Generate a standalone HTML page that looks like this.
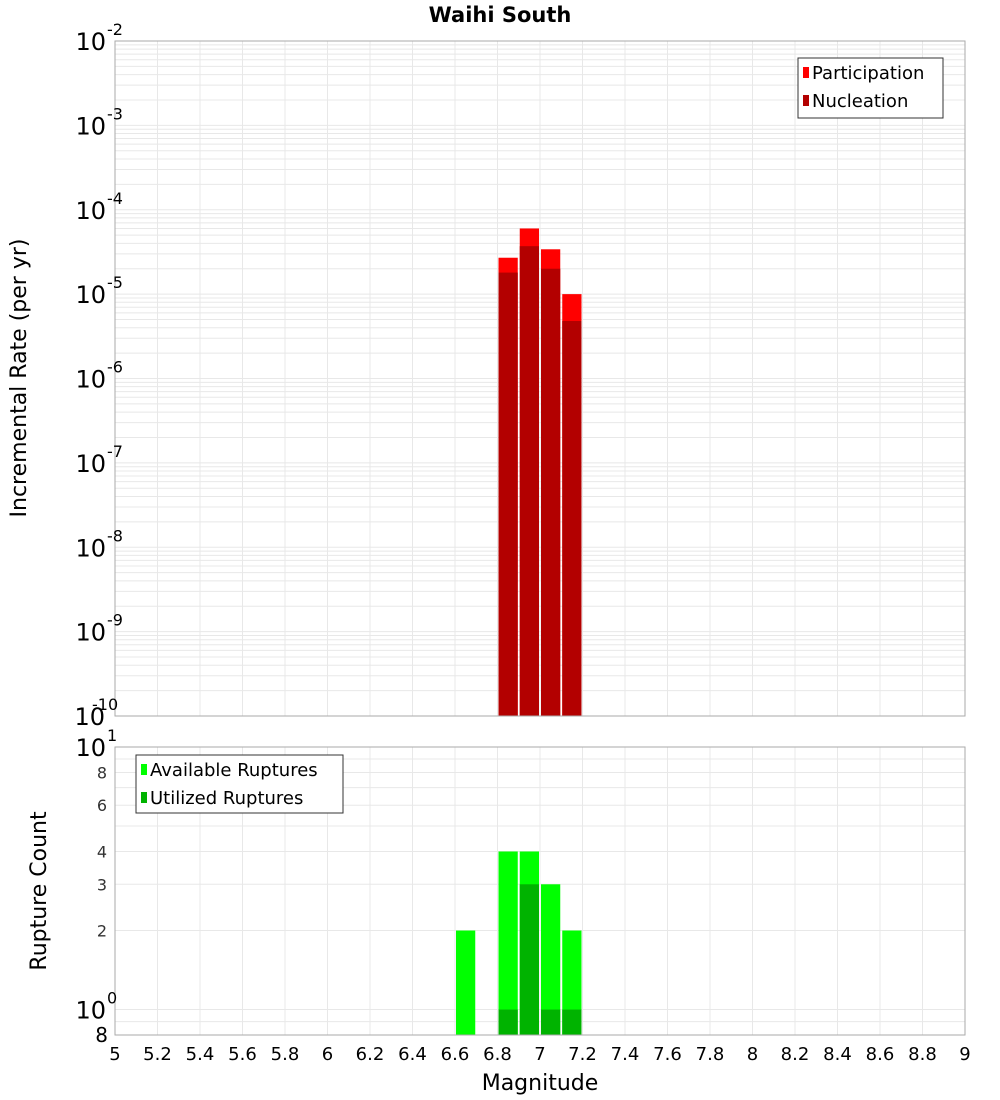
<!DOCTYPE html>
<html><head><meta charset="utf-8"><style>
html,body{margin:0;padding:0;background:#fff;}
svg{display:block;font-family:"DejaVu Sans","Liberation Sans",sans-serif;}
</style></head><body>
<svg id="chart" width="1000" height="1100" xmlns="http://www.w3.org/2000/svg"></svg>
<script>
const binCenters = [6.85, 6.95, 7.05, 7.15];
const participation = [2.7e-5, 6.0e-5, 3.4e-5, 1.0e-5];
const nucleation = [1.8e-5, 3.7e-5, 2.0e-5, 4.8e-6];
const countCenters = [6.65, 6.85, 6.95, 7.05, 7.15];
const available = [2, 4, 4, 3, 2];
const utilized = [0, 1, 3, 1, 1];
const xTicks = [5,5.2,5.4,5.6,5.8,6,6.2,6.4,6.6,6.8,7,7.2,7.4,7.6,7.8,8,8.2,8.4,8.6,8.8,9];
const xTickLabels = ["5","5.2","5.4","5.6","5.8","6","6.2","6.4","6.6","6.8","7","7.2","7.4","7.6","7.8","8","8.2","8.4","8.6","8.8","9"];
const topExps = [-2,-3,-4,-5,-6,-7,-8,-9,-10];
const bottomTicks = [2,3,4,6,8];
const binWidth = 0.1;

const svg = document.getElementById('chart');
const NS = 'http://www.w3.org/2000/svg';
function mk(tag, attrs, parent){const e=document.createElementNS(NS,tag);for(const k in attrs)e.setAttribute(k,attrs[k]);(parent||svg).appendChild(e);return e;}

const L=115,R=965,T1=41,B1=716,T2=747,B2=1035;
const x = v => L + (v-5)/4*(R-L);
const yTop = v => T1 + (-2 - Math.log10(v))/8*(B1-T1);
const yBot = v => B2 - (Math.log10(v)-Math.log10(0.8))/(1-Math.log10(0.8))*(B2-T2);

// title
let t=mk('text',{x:500,y:22,'text-anchor':'middle','font-size':21,'font-weight':'bold'});t.textContent='Waihi South';



// plot backgrounds
mk('rect',{x:L,y:T1,width:R-L,height:B1-T1,fill:'#fff'});
mk('rect',{x:L,y:T2,width:R-L,height:B2-T2,fill:'#fff'});

// grids
const g=mk('g',{stroke:'#e8e8e8','stroke-width':1});


xTicks.forEach(v=>{mk('line',{x1:x(v),x2:x(v),y1:T1,y2:B1},g);mk('line',{x1:x(v),x2:x(v),y1:T2,y2:B2},g);});
for(let e=-10;e<-2;e++){for(let m=1;m<10;m++){const yy=yTop(m*Math.pow(10,e));mk('line',{x1:L,x2:R,y1:yy,y2:yy},g);}}
for(let m=1;m<=10;m++){const yy=yBot(m);mk('line',{x1:L,x2:R,y1:yy,y2:yy},g);}
mk('line',{x1:L,x2:R,y1:yBot(0.9),y2:yBot(0.9)},g);

// top bars
binCenters.forEach((c,i)=>{
  const x0=x(c-binWidth/2)+1,w=x(c+binWidth/2)-x(c-binWidth/2)-2;
  let r=mk('rect',{x:x0,y:yTop(participation[i]),width:w,height:B1-yTop(participation[i]),fill:'#ff0000'});
  
  
  r=mk('rect',{x:x0,y:yTop(nucleation[i]),width:w,height:B1-yTop(nucleation[i]),fill:'#b30000'});
  
  
});
// bottom bars
countCenters.forEach((c,i)=>{
  const x0=x(c-binWidth/2)+1,w=x(c+binWidth/2)-x(c-binWidth/2)-2;
  let r=mk('rect',{x:x0,y:yBot(available[i]),width:w,height:B2-yBot(available[i]),fill:'#00ff00'});
  
  
  if(utilized[i]>0){
    r=mk('rect',{x:x0,y:yBot(utilized[i]),width:w,height:B2-yBot(utilized[i]),fill:'#00b300'});
    
    
  }
});

// frames
mk('rect',{x:L,y:T1,width:R-L,height:B1-T1,fill:'none',stroke:'#aaa'});
mk('rect',{x:L,y:T2,width:R-L,height:B2-T2,fill:'none',stroke:'#aaa'});

// top y tick labels
topExps.forEach(e=>{
  const yy=yTop(Math.pow(10,e));
  const tx=mk('text',{x:e===-10?105:106,y:yy+9,'text-anchor':'end','font-size':24});
  tx.textContent='10';
  
  
  const ex=mk('text',{x:e===-10?92:107,y:yy-6,'font-size':16,'text-anchor':'start'});
  ex.textContent=String(e);
  
  
});
// bottom y tick labels
[[10,'1'],[1,'0']].forEach(([v,p])=>{
  const yy=yBot(v);
  const tx=mk('text',{x:106,y:yy+9,'text-anchor':'end','font-size':24});tx.textContent='10';
  
  
  const ex=mk('text',{x:107,y:yy-6,'font-size':16});ex.textContent=p;
  
  
});
bottomTicks.forEach(v=>{
  const tx=mk('text',{x:107,y:yBot(v)+6,'text-anchor':'end','font-size':16,fill:'#333'});tx.textContent=String(v);
  
  
});
t=mk('text',{x:108,y:1042,'text-anchor':'end','font-size':20});t.textContent='8';



// x tick labels
xTicks.forEach((v,i)=>{
  const tx=mk('text',{x:x(v),y:1060,'text-anchor':'middle','font-size':18});tx.textContent=xTickLabels[i];
  
  
});

// axis titles
t=mk('text',{x:540,y:1090,'text-anchor':'middle','font-size':22});t.textContent='Magnitude';


t=mk('text',{x:0,y:0,'text-anchor':'middle','font-size':22,transform:'translate(26,378) rotate(-90)'});t.textContent='Incremental Rate (per yr)';


t=mk('text',{x:0,y:0,'text-anchor':'middle','font-size':22,transform:'translate(46,891) rotate(-90)'});t.textContent='Rupture Count';



// legends
function legend(x0,y0,w,h,items,name){
  const lg=mk('g',{});
  
  
  mk('rect',{x:x0,y:y0,width:w,height:h,fill:'#fff',stroke:'#333'},lg);
  items.forEach((it,i)=>{
    const yy=y0+16+i*28;
    mk('rect',{x:x0+5,y:yy-7,width:6,height:11,fill:it[1]},lg);
    const tx=mk('text',{x:x0+14,y:yy+5,'font-size':18},lg);tx.textContent=it[0];
    
    
  });
}
legend(798,58,145,60,[['Participation','#ff0000'],['Nucleation','#b30000']],'top-legend');
legend(136,755,207,58,[['Available Ruptures','#00ff00'],['Utilized Ruptures','#00b300']],'bottom-legend');
</script>
</body></html>
